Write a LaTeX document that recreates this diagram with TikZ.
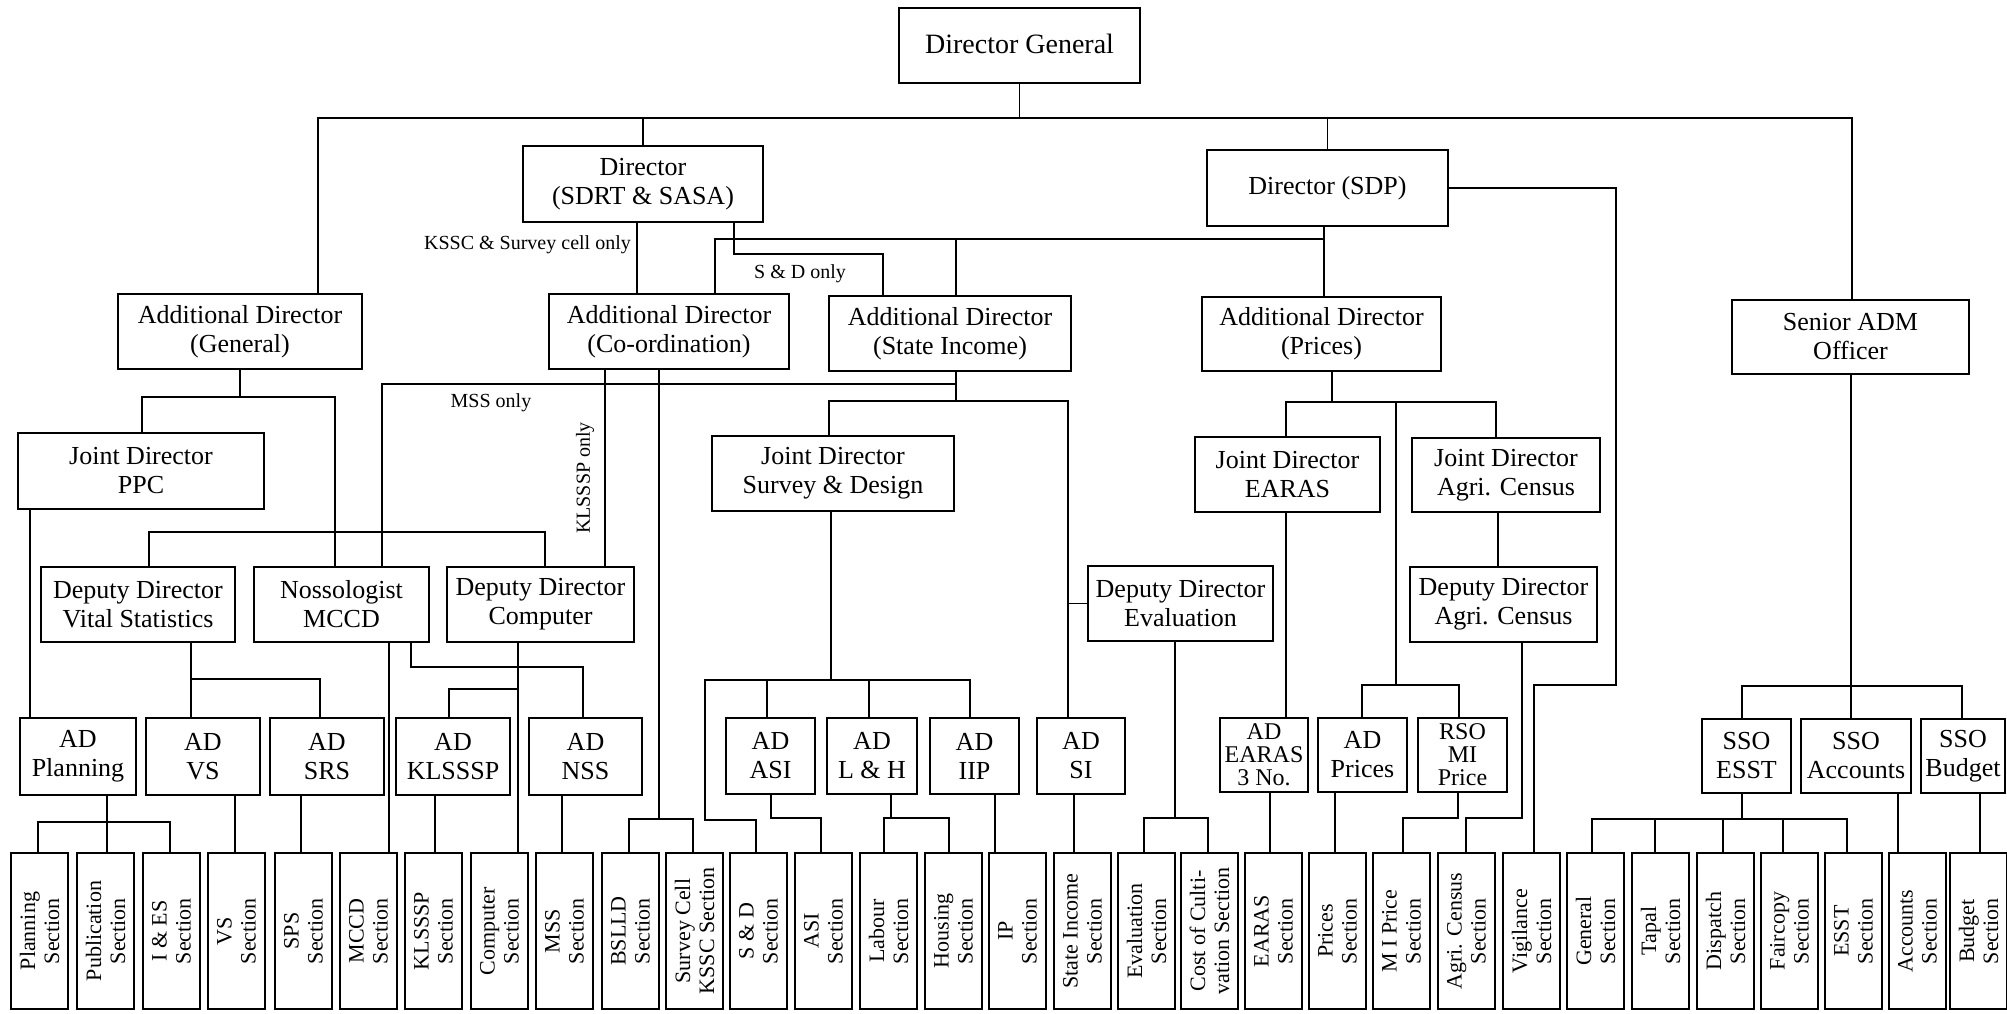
\documentclass[tikz,border=0pt]{standalone}
\usepackage{fontspec}
\setmainfont{Liberation Serif}
\newcommand\orgbox[7][]{%
  \node[box,#1,minimum width={(#5-#3)*1pt},minimum height={(#6-#4)*1pt}] (#2) at ({(#3+#5)/2},{(#4+#6)/2}) {#7};}
\tikzset{
  box/.style={draw, line width=2.2pt, inner sep=0pt, align=center, font=\fontsize{26}{29}\selectfont},
  three/.style={font=\fontsize{24}{23}\selectfont},
  secb/.style={draw, line width=2.2pt, inner sep=0pt, minimum width=57pt, minimum height=156pt},
  sect/.style={rotate=90, align=center, inner sep=0pt, font=\fontsize{22}{24}\selectfont},
  conn/.style={line width=1.8pt},
  lbl/.style={inner sep=1pt, font=\fontsize{20}{22}\selectfont},
}
\begin{document}
\begin{tikzpicture}[x=1pt,y=-1pt]
\useasboundingbox[fill=white] (0,0) rectangle (2007,1013);
% helper coordinates
\foreach \v in {30,38,107,142,149,170,191,235,301,318,320,335,382,389,411,435,449,518,545,562,583,605,629,637,659,693,705,715,734,756,767,771,821,829,831,869,883,884,891,949,956,970,995,1068,1074,1144,1175,1208,1270,1286,1324,1332,1335,1362,1396,1403,1458,1459,1466,1496,1498,1522,1534,1592,1616,1655,1723,1742,1783,1847,1851,1852,1898,1962,1980}
  {\coordinate (X\v) at (\v,0);}
\foreach \v in {118,239,254,384,397,401,402,532,667,679,680,685,686,689,818,819,820,822}
  {\coordinate (Y\v) at (0,\v);}
% level 0-2
\orgbox[font=\fontsize{28}{30}\selectfont, text depth=4pt]{dg}{899}{8}{1140}{83}{Director General}
\orgbox{dsdrt}{523}{146}{763}{222}{Director\\(SDRT \& SASA)}
\orgbox{dsdp}{1207}{150}{1448}{226}{Director (SDP)}
\orgbox{adgen}{118}{294}{362}{369}{Additional Director\\(General)}
\orgbox{adcoord}{549}{294}{789}{369}{Additional Director\\(Co-ordination)}
\orgbox{adsi}{829}{296}{1071}{371}{Additional Director\\(State Income)}
\orgbox{adpr}{1202}{297}{1441}{371}{Additional Director\\(Prices)}
\orgbox{sadm}{1732}{300}{1969}{374}{Senior ADM\\Officer}
% level 3
\orgbox{jdppc}{18}{433}{264}{509}{Joint Director\\PPC}
\orgbox{jdsd}{712}{436}{954}{511}{Joint Director\\Survey \& Design}
\orgbox{jdea}{1195}{437}{1380}{512}{Joint Director\\EARAS}
\orgbox{jdac}{1412}{438}{1600}{512}{Joint Director\\Agri. Census}
% level 4
\orgbox{ddvs}{41}{567}{235}{642}{Deputy Director\\Vital Statistics}
\orgbox{nos}{254}{567}{429}{642}{Nossologist\\MCCD}
\orgbox{ddcomp}{447}{567}{634}{642}{Deputy Director\\Computer}
\orgbox{ddev}{1088}{566}{1273}{641}{Deputy Director\\Evaluation}
\orgbox{ddac}{1410}{567}{1597}{642}{Deputy Director\\Agri. Census}
% AD row
\orgbox{adplan}{20}{718}{136}{795}{AD\\Planning}
\orgbox{advs}{146}{718}{260}{795}{AD\\VS}
\orgbox{adsrs}{270}{718}{384}{795}{AD\\SRS}
\orgbox{adkl}{396}{718}{510}{795}{AD\\KLSSSP}
\orgbox{adnss}{529}{718}{642}{795}{AD\\NSS}
\orgbox{adasi}{726}{718}{815}{794}{AD\\ASI}
\orgbox{adlh}{827}{718}{917}{794}{AD\\L \& H}
\orgbox{adiip}{930}{718}{1019}{794}{AD\\IIP}
\orgbox{adsiad}{1037}{718}{1125}{794}{AD\\SI}
\orgbox[three]{adea}{1220}{718}{1308}{792}{AD\\EARAS\\3 No.}
\orgbox{adprc}{1318}{718}{1407}{792}{AD\\Prices}
\orgbox[three]{rso}{1418}{718}{1507}{792}{RSO\\MI\\Price}
\orgbox{ssoesst}{1702}{719}{1791}{793}{SSO\\ESST}
\orgbox{ssoacc}{1801}{719}{1911}{793}{SSO\\Accounts}
\orgbox{ssobud}{1921}{719}{2005}{793}{SSO\\Budget}
% section row
\foreach \i/\l/\t in {1/11/{Planning\\Section},2/77/{Publication\\Section},3/143/{I \& ES\\Section},
  4/208/{VS\\Section},5/275/{SPS\\Section},6/340/{MCCD\\Section},7/405/{KLSSSP\\Section},
  8/471/{Computer\\Section},9/536/{MSS\\Section},10/602/{BSLLD\\Section},11/666/{Survey Cell\\KSSC Section},
  12/730/{S \& D\\Section},13/795/{ASI\\Section},14/860/{Labour\\Section},15/925/{Housing\\Section},
  16/989/{IP\\Section},17/1054/{State Income\\Section},18/1118/{Evaluation\\Section},
  19/1181/{Cost of Culti-\\vation Section},20/1245/{EARAS\\Section},21/1309/{Prices\\Section},
  22/1373/{M I Price\\Section},23/1438/{Agri. Census\\Section},24/1503/{Vigilance\\Section},
  25/1567/{General\\Section},26/1632/{Tapal\\Section},27/1697/{Dispatch\\Section},
  28/1761/{Faircopy\\Section},29/1825/{ESST\\Section},30/1889/{Accounts\\Section},31/1950/{Budget\\Section}}
{
  \node[secb] (s\i) at (\l+28.5,931) {};
  \node[sect] (t\i) at (s\i.center) {\t};
}
% top level connectors
\draw[conn] (dg.south) -- (dg.south |- Y118);
\draw[conn] (adgen.north -| X318) -- (X318 |- Y118) -- (X1852 |- Y118) -- (sadm.north -| X1852);
\draw[conn] (dsdrt.north) -- (dsdrt.north |- Y118);
\draw[conn] (dsdp.north) -- (dsdp.north |- Y118);
\draw[conn] (dsdp.east) -- (dsdp.east -| X1616) -- (X1616 |- Y685) -- (X1534 |- Y685) -- (s24.north -| X1534);
\draw[conn] (dsdp.south -| X1324) -- (adpr.north -| X1324);
\draw[conn] (adcoord.north -| X715) -- (X715 |- Y239) -- (X1324 |- Y239);
\draw[conn] (adsi.north -| X956) -- (X956 |- Y239);
\draw[conn] (dsdrt.south -| X637) -- (adcoord.north -| X637);
\draw[conn] (dsdrt.south -| X734) -- (X734 |- Y254) -- (X883 |- Y254) -- (adsi.north -| X883);
\node[lbl, anchor=east] (lk) at (632,245) {KSSC \& Survey cell only};
\node[lbl] (lsd) at (800,274) {S \& D only};
% Additional Director General
\draw[conn] (adgen.south) -- (adgen.south |- Y397);
\draw[conn] (jdppc.north -| X142) -- (X142 |- Y397) -- (X335 |- Y397) -- (nos.north -| X335);
\draw[conn] (ddvs.north -| X149) -- (X149 |- Y532) -- (X545 |- Y532) -- (ddcomp.north -| X545);
\draw[conn] (nos.north -| X382) -- (X382 |- Y384) -- (X956 |- Y384);
\node[lbl] (lmss) at (491,403) {MSS only};
% State Income
\draw[conn] (adsi.south -| X956) -- (X956 |- Y401);
\draw[conn] (jdsd.north -| X829) -- (X829 |- Y401) -- (X1068 |- Y401) -- (adsiad.north -| X1068);
\draw[conn] (X1068 |- ddev.west) -- (ddev.west);
% Co-ordination
\draw[conn] (adcoord.south -| X605) -- (ddcomp.north -| X605);
\node[lbl, rotate=90] (lkl) at (585,478) {KLSSSP only};
\draw[conn] (adcoord.south -| X659) -- (X659 |- Y819);
\draw[conn] (s10.north -| X629) -- (X629 |- Y819) -- (X693 |- Y819) -- (s11.north -| X693);
% PPC, VS, Nossologist, Computer
\draw[conn] (jdppc.south -| X30) -- (adplan.north -| X30);
\draw[conn] (ddvs.south -| X191) -- (advs.north -| X191);
\draw[conn] (X191 |- Y679) -- (X320 |- Y679) -- (adsrs.north -| X320);
\draw[conn] (nos.south -| X389) -- (s6.north -| X389);
\draw[conn] (nos.south -| X411) -- (X411 |- Y667) -- (X583 |- Y667) -- (adnss.north -| X583);
\draw[conn] (ddcomp.south -| X518) -- (s8.north -| X518);
\draw[conn] (X518 |- Y689) -- (X449 |- Y689) -- (adkl.north -| X449);
% Survey & Design
\draw[conn] (jdsd.south -| X831) -- (X831 |- Y680);
\draw[conn] (s12.north -| X756) -- (X756 |- Y820) -- (X705 |- Y820) -- (X705 |- Y680) -- (X970 |- Y680) -- (adiip.north -| X970);
\draw[conn] (adasi.north -| X767) -- (X767 |- Y680);
\draw[conn] (adlh.north -| X869) -- (X869 |- Y680);
% Evaluation
\draw[conn] (ddev.south -| X1175) -- (X1175 |- Y818);
\draw[conn] (s18.north -| X1144) -- (X1144 |- Y818) -- (X1208 |- Y818) -- (s19.north -| X1208);
% Prices
\draw[conn] (adpr.south -| X1332) -- (X1332 |- Y402);
\draw[conn] (jdea.north -| X1286) -- (X1286 |- Y402) -- (X1496 |- Y402) -- (jdac.north -| X1496);
\draw[conn] (X1396 |- Y402) -- (X1396 |- Y685);
\draw[conn] (adprc.north -| X1362) -- (X1362 |- Y685) -- (X1459 |- Y685) -- (rso.north -| X1459);
\draw[conn] (jdea.south -| X1286) -- (adea.north -| X1286);
\draw[conn] (jdac.south -| X1498) -- (ddac.north -| X1498);
\draw[conn] (ddac.south -| X1522) -- (X1522 |- Y818) -- (X1466 |- Y818) -- (s23.north -| X1466);
\draw[conn] (adprc.south -| X1335) -- (s21.north -| X1335);
\draw[conn] (rso.south -| X1458) -- (X1458 |- Y818) -- (X1403 |- Y818) -- (s22.north -| X1403);
% Senior ADM
\draw[conn] (sadm.south -| X1851) -- (ssoacc.north -| X1851);
\draw[conn] (ssoesst.north -| X1742) -- (X1742 |- Y686) -- (X1962 |- Y686) -- (ssobud.north -| X1962);
\draw[conn] (ssoesst.south -| X1742) -- (X1742 |- Y819);
\draw[conn] (s25.north -| X1592) -- (X1592 |- Y819) -- (X1847 |- Y819) -- (s29.north -| X1847);
\draw[conn] (s26.north -| X1655) -- (X1655 |- Y819);
\draw[conn] (s27.north -| X1723) -- (X1723 |- Y819);
\draw[conn] (s28.north -| X1783) -- (X1783 |- Y819);
\draw[conn] (ssoacc.south -| X1898) -- (s30.north -| X1898);
\draw[conn] (ssobud.south -| X1980) -- (s31.north -| X1980);
% AD row to sections
\draw[conn] (adplan.south -| X107) -- (s2.north -| X107);
\draw[conn] (s1.north -| X38) -- (X38 |- Y822) -- (X170 |- Y822) -- (s3.north -| X170);
\draw[conn] (advs.south -| X235) -- (s4.north -| X235);
\draw[conn] (adsrs.south -| X301) -- (s5.north -| X301);
\draw[conn] (adkl.south -| X435) -- (s7.north -| X435);
\draw[conn] (adnss.south -| X562) -- (s9.north -| X562);
\draw[conn] (adasi.south -| X771) -- (X771 |- Y818) -- (X821 |- Y818) -- (s13.north -| X821);
\draw[conn] (adlh.south -| X891) -- (X891 |- Y818);
\draw[conn] (s14.north -| X884) -- (X884 |- Y818) -- (X949 |- Y818) -- (s15.north -| X949);
\draw[conn] (adiip.south -| X995) -- (s16.north -| X995);
\draw[conn] (adsiad.south -| X1074) -- (s17.north -| X1074);
\draw[conn] (adea.south -| X1270) -- (s20.north -| X1270);
\end{tikzpicture}
\end{document}
